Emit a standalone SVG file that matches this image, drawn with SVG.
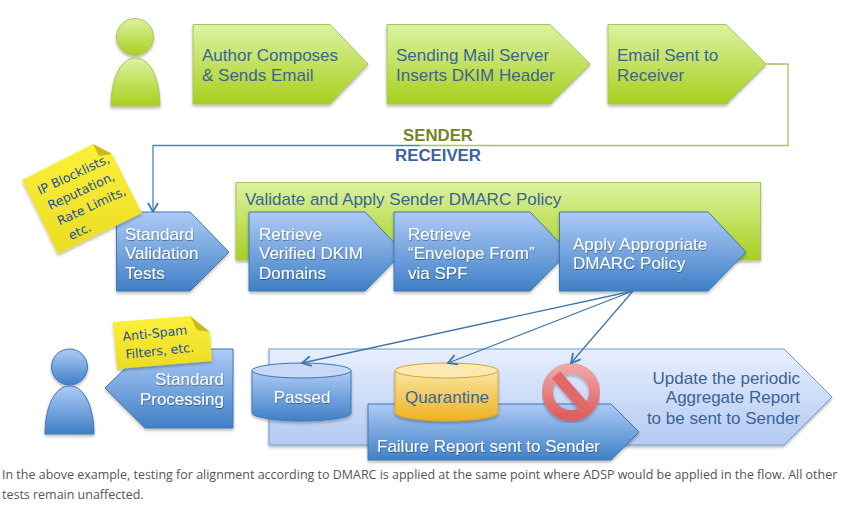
<svg xmlns="http://www.w3.org/2000/svg" width="846" height="508" viewBox="0 0 846 508">
<defs>
<linearGradient id="gG" x1="0" y1="0" x2="0" y2="1"><stop offset="0" stop-color="#dcf3a0"/><stop offset="1" stop-color="#a9cf1f"/></linearGradient>
<linearGradient id="gB" x1="0" y1="0" x2="0" y2="1"><stop offset="0" stop-color="#aecbf7"/><stop offset="1" stop-color="#3f80c6"/></linearGradient>
<linearGradient id="gL" x1="0" y1="0" x2="0" y2="1"><stop offset="0" stop-color="#e8effd"/><stop offset="1" stop-color="#b3caf3"/></linearGradient>
<linearGradient id="gY" x1="0" y1="0" x2="0" y2="1"><stop offset="0" stop-color="#fbe6a6"/><stop offset="1" stop-color="#eeb11f"/></linearGradient>
<linearGradient id="gR" x1="0" y1="0" x2="0" y2="1"><stop offset="0" stop-color="#eda5a5"/><stop offset="1" stop-color="#dd5f5f"/></linearGradient>
<linearGradient id="gS" x1="0" y1="0" x2="0" y2="1"><stop offset="0" stop-color="#fdf03a"/><stop offset="1" stop-color="#eadc24"/></linearGradient>
<filter id="sh" x="-10%" y="-10%" width="120%" height="125%"><feDropShadow dx="0" dy="2" stdDeviation="1.5" flood-color="#000" flood-opacity="0.28"/></filter>
<filter id="ts" x="-5%" y="-20%" width="110%" height="140%"><feDropShadow dx="0.5" dy="1" stdDeviation="0.6" flood-color="#000" flood-opacity="0.4"/></filter>
<marker id="ah" markerWidth="12" markerHeight="12" refX="10" refY="6" orient="auto" markerUnits="userSpaceOnUse"><path d="M1 1 L10 6 L1 11" fill="none" stroke="#3b78ae" stroke-width="1.8"/></marker>
</defs>
<style>
text{font-family:"Liberation Sans",Arial,sans-serif}
.g{fill:url(#gG);stroke:#a9c45a;stroke-width:1;filter:url(#sh)}
.b{fill:url(#gB);stroke:#3f78b4;stroke-width:1;filter:url(#sh)}
.l{fill:url(#gL);stroke:#6f9ccc;stroke-width:1;filter:url(#sh)}
.y{fill:url(#gY);stroke:#d9a52c;stroke-width:1;filter:url(#sh)}
.dk{fill:#3a6496;font-size:17px}
.wh{fill:#fff;font-size:17px;filter:url(#ts)}
.hd{font-size:16.800px;font-weight:bold}
.note{fill:#24509a;font-family:"DejaVu Sans",sans-serif;font-size:12.500px}
.sticky{fill:url(#gS);filter:url(#sh)}
.fold{fill:#c9b91e}
.cap{fill:#555;font-family:"Open Sans",sans-serif;font-size:12.480px}
.conn{fill:none;stroke-width:1.3}
</style>

<g id="person-sender">
<circle cx="135" cy="37" r="18.500" class="g"/>
<path d="M111 106 C111 80 120 58 135.500 58 C151 58 160 80 160 106 Z" class="g"/>
</g>
<g id="author"><path d="M193 24.500 H330 L368 64 L330 104 H193 Z" class="g"/><text class="dk" x="202" y="61">Author Composes</text><text class="dk" x="202" y="81">&amp; Sends Email</text></g>
<g id="sending"><path d="M387 24.500 H550 L590 64 L550 104 H387 Z" class="g"/><text class="dk" x="396" y="61">Sending Mail Server</text><text class="dk" x="396" y="81">Inserts DKIM Header</text></g>
<g id="sent"><path d="M608 24.500 H726 L766 64 L726 104 H608 Z" class="g"/><text class="dk" x="617" y="61">Email Sent to</text><text class="dk" x="617" y="81">Receiver</text></g>

<g id="divider-labels">
<text class="hd" x="438" y="141" text-anchor="middle" fill="#77861a">SENDER</text>
<text class="hd" x="438" y="161" text-anchor="middle" fill="#3a62a0">RECEIVER</text>
</g>

<g id="policy"><rect x="236" y="182.500" width="524.500" height="77.500" class="g"/><text class="dk" x="245" y="205">Validate and Apply Sender DMARC Policy</text></g>

<g id="connectors">
<path class="conn" stroke="#a9c45a" d="M766 64 H788 V145.500 H420"/>
<path class="conn" stroke="#4a86b8" d="M420 145.500 H153 V212" marker-end="url(#ah)"/>
</g>

<g id="standard-validation"><path d="M116.500 212 H190 L229 252 L190 291 H116.500 Z" class="b"/><text class="wh" x="125" y="240">Standard</text><text class="wh" x="125" y="259">Validation</text><text class="wh" x="125" y="279">Tests</text></g>
<g id="retrieve-dkim"><path d="M249 212 H365 L403 252 L365 291 H249 Z" class="b"/><text class="wh" x="259" y="240">Retrieve</text><text class="wh" x="259" y="259">Verified DKIM</text><text class="wh" x="259" y="279">Domains</text></g>
<g id="retrieve-spf"><path d="M394 212 H530 L568.500 252 L530 291 H394 Z" class="b"/><text class="wh" x="408" y="240">Retrieve</text><text class="wh" x="408" y="259">“Envelope From”</text><text class="wh" x="408" y="279">via SPF</text></g>
<g id="apply"><path d="M559.500 212 H708 L746 252 L708 291 H559.500 Z" class="b"/><text class="wh" x="573" y="249.500">Apply Appropriate</text><text class="wh" x="573" y="268.500">DMARC Policy</text></g>

<g id="sticky-ip">
<path class="sticky" d="M22 180 L93 144 L112 154 L142 213 L58 254 Z"/>
<path class="fold" d="M93 144 L112 154 L99 156 Z"/>
<g transform="translate(40 195) rotate(-25)">
<text class="note" x="0" y="0">IP Blocklists,</text>
<text class="note" x="3" y="18">Reputation,</text>
<text class="note" x="5" y="36">Rate Limits,</text>
<text class="note" x="9" y="54">etc.</text>
</g>
</g>

<g id="person-receiver">
<circle cx="69.500" cy="367" r="18" class="b"/>
<path d="M45 434 C45 408 54 386 69.500 386 C85 386 94 408 94 434 Z" class="b"/>
</g>
<g id="standard-processing"><path d="M233 349 H145 L105 388 L145 428 H233 Z" class="b"/><text class="wh" x="224" y="385" text-anchor="end">Standard</text><text class="wh" x="224" y="405" text-anchor="end">Processing</text></g>
<g id="sticky-antispam">
<path class="sticky" d="M113 322 L190 316 L210 332 L212 361 L117 369 Z"/>
<path class="fold" d="M190 316 L210 332 L197 330 Z"/>
<g transform="translate(123 341) rotate(-6)">
<text class="note" x="0" y="0">Anti-Spam</text>
<text class="note" x="1" y="18">Filters, etc.</text>
</g>
</g>

<g id="aggregate"><path d="M269 349 H784 L832 397 L784 445 H269 Z" class="l"/><text class="dk" x="800" y="384" text-anchor="end">Update the periodic</text><text class="dk" x="800" y="403" text-anchor="end">Aggregate Report</text><text class="dk" x="800" y="424" text-anchor="end">to be sent to Sender</text></g>
<g id="failure"><path d="M368 404 H611 L639 432 L611 460 H368 Z" class="b"/><text class="wh" x="377" y="452">Failure Report sent to Sender</text></g>
<g id="passed">
<path d="M252 370.500 V413 C252 417 275 421 302 421 C329 421 351 417 351 413 V370.500 Z" class="b"/>
<ellipse cx="301.500" cy="370.500" rx="49.500" ry="7.500" fill="#c7d9f6" stroke="#3f78b4"/>
<text class="wh" x="302" y="403" text-anchor="middle">Passed</text>
</g>
<g id="quarantine">
<path d="M395 370.500 V413 C395 417 420 421 447 421 C474 421 498 417 498 413 V370.500 Z" class="y"/>
<ellipse cx="446.500" cy="370.500" rx="51.500" ry="7.500" fill="#fbe9b4" stroke="#d9a52c"/>
<text class="dk" x="447" y="403" text-anchor="middle">Quarantine</text>
</g>
<g id="blocked" filter="url(#sh)">
<circle cx="571" cy="392" r="23.500" fill="none" stroke="url(#gR)" stroke-width="11"/>
<path d="M556 375 L586 409" stroke="#e06a6a" stroke-width="11" fill="none"/>
</g>

<g id="connectors-policy">
<path class="conn" stroke="#3b78ae" d="M633 291 L302 363" marker-end="url(#ah)"/>
<path class="conn" stroke="#3b78ae" d="M633 291 L448 363" marker-end="url(#ah)"/>
<path class="conn" stroke="#3b78ae" d="M633 291 L571 363" marker-end="url(#ah)"/>
</g>

<g id="caption">
<text class="cap" x="2" y="479">In the above example, testing for alignment according to DMARC is applied at the same point where ADSP would be applied in the flow. All other</text>
<text class="cap" x="2" y="499">tests remain unaffected.</text>
</g>
</svg>
